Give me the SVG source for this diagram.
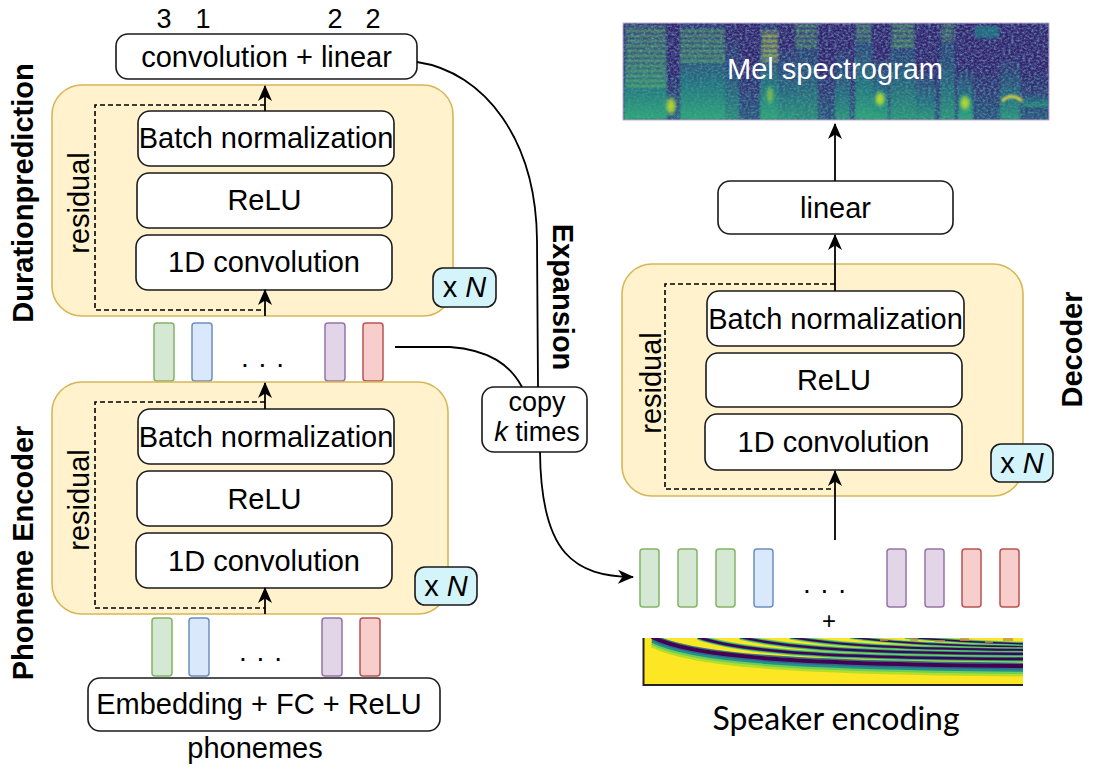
<svg xmlns="http://www.w3.org/2000/svg" width="1095" height="776" viewBox="0 0 1095 776">
<defs>
<style>
.t{font-family:"Liberation Sans",Arial,sans-serif;font-size:29px;fill:#000;text-anchor:middle}
.b{font-weight:bold;font-size:29px}
.box{fill:#fff;stroke:#1a1a1a;stroke-width:1.6}
.grp{fill:#fff2cc;stroke:#d6b656;stroke-width:1.6}
.badge{fill:#d4f4fc;stroke:#1a1a1a;stroke-width:1.6}
.res{fill:none;stroke:#000;stroke-width:1.6;stroke-dasharray:5 3}
.edge{fill:none;stroke:#000;stroke-width:1.8}
.arr{marker-end:url(#ah)}
.vg{fill:#d5e8d4;stroke:#82b366;stroke-width:1.5}
.vb{fill:#dae8fc;stroke:#6c8ebf;stroke-width:1.5}
.vp{fill:#e1d5e7;stroke:#9673a6;stroke-width:1.5}
.vr{fill:#f8cecc;stroke:#b85450;stroke-width:1.5}
.dots{font-family:"Liberation Sans",Arial,sans-serif;font-size:28px;letter-spacing:1px;text-anchor:middle}
</style>
<marker id="ah" markerUnits="userSpaceOnUse" markerWidth="16" markerHeight="14" viewBox="0 0 16 14" refX="15" refY="7" orient="auto"><path d="M0,0 L16,7 L0,14 L4.5,7 z" fill="#000"/></marker>
<clipPath id="melclip"><rect x="623" y="23" width="426" height="97"/></clipPath>
<clipPath id="spkclip"><rect x="643" y="638" width="380" height="47"/></clipPath>
<linearGradient id="tg" x1="0" y1="0" x2="0" y2="1"><stop offset="0" stop-color="#26828e" stop-opacity="0.2"/><stop offset="0.6" stop-color="#1f9e89" stop-opacity="0.55"/><stop offset="1" stop-color="#35b779" stop-opacity="0.8"/></linearGradient>
<linearGradient id="bg2" x1="0" y1="0" x2="0" y2="1"><stop offset="0" stop-color="#21918c" stop-opacity="0"/><stop offset="1" stop-color="#21918c" stop-opacity="0.45"/></linearGradient>
<radialGradient id="yb"><stop offset="0" stop-color="#e8e419"/><stop offset="0.45" stop-color="#a5db36"/><stop offset="1" stop-color="#35b779" stop-opacity="0"/></radialGradient>
<pattern id="hg" patternUnits="userSpaceOnUse" width="8" height="5"><rect x="0" y="0" width="8" height="1.8" fill="#6ece58"/></pattern>
<pattern id="hy" patternUnits="userSpaceOnUse" width="8" height="5"><rect x="0" y="0" width="8" height="1.8" fill="#c8e020"/></pattern>
<filter id="noise" x="0" y="0" width="1" height="1"><feTurbulence type="fractalNoise" baseFrequency="0.35 0.5" numOctaves="2" seed="4"/><feColorMatrix type="matrix" values="0 0 0 0 0.15  0 0 0 0 0.45  0 0 0 0 0.55  0 0 0 1.6 -0.62"/><feComposite in2="SourceGraphic" operator="in"/></filter>
<filter id="soft" x="-5%" y="-5%" width="110%" height="110%"><feGaussianBlur stdDeviation="0.8"/></filter>
</defs>
<rect width="1095" height="776" fill="#fff"/>

<g id="conv-linear">
<rect class="box" x="116" y="34" width="301" height="45" rx="12"/>
<text class="t" x="266.5" y="67">convolution + linear</text>
<text class="t" style="font-size:27px" x="164" y="28">3</text>
<text class="t" style="font-size:27px" x="203" y="28">1</text>
<text class="t" style="font-size:27px" x="335" y="28">2</text>
<text class="t" style="font-size:27px" x="373" y="28">2</text>
</g>

<g id="duration-prediction">
<rect class="grp" x="52" y="85" width="401" height="231" rx="30"/>
<rect class="box" x="138" y="111" width="256" height="55" rx="12"/>
<text class="t" x="266" y="148">Batch normalization</text>
<rect class="box" x="137" y="173" width="255" height="55" rx="12"/>
<text class="t" x="264.5" y="210">ReLU</text>
<rect class="box" x="136" y="235" width="256" height="55" rx="12"/>
<text class="t" x="264" y="272">1D convolution</text>
<text class="t" transform="translate(89,203) rotate(-90)">residual</text>
<text class="t b" transform="translate(33,193) rotate(-90)">Durationprediction</text>
</g>
<g id="duration-xn">
<rect class="badge" x="433" y="268" width="63" height="39" rx="10"/>
<text class="t" x="464.5" y="297">x <tspan font-style="italic">N</tspan></text>
</g>

<g id="encoder-vectors">
<rect class="vg" x="154" y="323" width="20" height="58" rx="3"/>
<rect class="vb" x="192" y="323" width="20" height="58" rx="3"/>
<rect class="vp" x="325" y="323" width="20" height="58" rx="3"/>
<rect class="vr" x="363" y="323" width="20" height="58" rx="3"/>
<text class="dots" x="263" y="367">. . .</text>
</g>

<g id="phoneme-encoder">
<rect class="grp" x="52" y="382" width="396" height="232" rx="30"/>
<rect class="box" x="138" y="409" width="256" height="55" rx="12"/>
<text class="t" x="266" y="447">Batch normalization</text>
<rect class="box" x="137" y="471" width="255" height="55" rx="12"/>
<text class="t" x="264.5" y="509">ReLU</text>
<rect class="box" x="136" y="533" width="256" height="55" rx="12"/>
<text class="t" x="264" y="571">1D convolution</text>
<text class="t" transform="translate(89,500) rotate(-90)">residual</text>
<text class="t b" transform="translate(33,553) rotate(-90)">Phoneme Encoder</text>
</g>
<g id="encoder-xn">
<rect class="badge" x="415" y="567" width="62" height="38" rx="10"/>
<text class="t" x="446" y="596">x <tspan font-style="italic">N</tspan></text>
</g>

<g id="embedding-vectors">
<rect class="vg" x="152" y="618" width="20" height="58" rx="3"/>
<rect class="vb" x="189" y="618" width="20" height="58" rx="3"/>
<rect class="vp" x="322" y="618" width="20" height="58" rx="3"/>
<rect class="vr" x="360" y="618" width="20" height="58" rx="3"/>
<text class="dots" x="261" y="661">. . .</text>
</g>

<g id="embedding">
<rect class="box" x="88" y="678" width="352" height="53" rx="12"/>
<text class="t" x="259" y="714">Embedding + FC + ReLU</text>
<text class="t" x="255" y="758">phonemes</text>
</g>

<g id="expansion">
<text class="t b" transform="translate(553,297) rotate(90)">Expansion</text>
</g>
<g id="copy">
<rect class="box" x="482" y="387" width="105" height="65" rx="12"/>
<text class="t" style="font-size:27px" x="537" y="411">copy</text>
<text class="t" style="font-size:27px" x="537" y="441"><tspan font-style="italic">k</tspan> times</text>
</g>

<g id="mel">
<g clip-path="url(#melclip)">
<rect x="623" y="23" width="426" height="97" fill="#36236f"/>
<rect x="623" y="23" width="426" height="97" fill="#000" filter="url(#noise)"/>
<g filter="url(#soft)">
<rect x="623" y="70" width="426" height="50" fill="url(#bg2)"/>
<g fill="url(#tg)">
<rect x="624" y="23" width="43" height="97"/>
<rect x="680" y="23" width="45" height="97"/>
<rect x="725" y="40" width="14" height="80" opacity="0.7"/>
<rect x="760" y="23" width="18" height="97"/>
<rect x="778" y="50" width="17" height="70" opacity="0.8"/>
<rect x="795" y="23" width="23" height="97" opacity="0.7"/>
<rect x="835" y="50" width="15" height="70" opacity="0.8"/>
<rect x="855" y="23" width="17" height="97"/>
<rect x="872" y="60" width="16" height="60"/>
<rect x="890" y="23" width="25" height="97" opacity="0.8"/>
<rect x="915" y="70" width="20" height="50" opacity="0.8"/>
<rect x="940" y="23" width="15" height="97" opacity="0.8"/>
<rect x="958" y="70" width="15" height="50"/>
<rect x="1000" y="60" width="20" height="60" opacity="0.8"/>
<rect x="1022" y="95" width="27" height="12" opacity="0.8"/>
</g>
<rect x="626" y="26" width="40" height="62" fill="url(#hg)" opacity="0.65"/>
<rect x="680" y="28" width="45" height="36" fill="url(#hg)" opacity="0.65"/>
<rect x="762" y="31" width="16" height="30" fill="url(#hy)" opacity="0.85"/>
<rect x="795" y="25" width="22" height="22" fill="url(#hg)" opacity="0.6"/>
<rect x="856" y="25" width="15" height="16" fill="url(#hg)" opacity="0.6"/>
<rect x="892" y="25" width="22" height="22" fill="url(#hg)" opacity="0.7"/>
<rect x="942" y="25" width="12" height="16" fill="url(#hg)" opacity="0.6"/>
<rect x="975" y="26" width="24" height="12" fill="#21918c" opacity="0.6"/>
<ellipse cx="671" cy="106" rx="7" ry="12" fill="url(#yb)" opacity="0.85"/>
<ellipse cx="880" cy="99" rx="7" ry="10" fill="url(#yb)" opacity="0.85"/>
<ellipse cx="965" cy="103" rx="7" ry="10" fill="url(#yb)" opacity="0.85"/>
<path d="M1002,101 Q1012,92 1022,101" fill="none" stroke="#d6e21f" stroke-width="2.5"/>
<ellipse cx="770" cy="95" rx="5" ry="12" fill="url(#yb)" opacity="0.5"/>
</g>
</g>
<rect x="623" y="23" width="426" height="97" fill="none" stroke="#c0aed4" stroke-width="1"/>
<text class="t" x="835" y="79" style="fill:#fff">Mel spectrogram</text>
</g>

<g id="linear">
<rect class="box" x="718" y="181" width="235" height="53" rx="12"/>
<text class="t" x="835.5" y="218">linear</text>
</g>

<g id="decoder">
<rect class="grp" x="622" y="264" width="401" height="232" rx="30"/>
<rect class="box" x="707" y="291" width="257" height="55" rx="12"/>
<text class="t" x="835.5" y="328.5">Batch normalization</text>
<rect class="box" x="706" y="353" width="256" height="54" rx="12"/>
<text class="t" x="834" y="390">ReLU</text>
<rect class="box" x="705" y="414" width="257" height="56" rx="12"/>
<text class="t" x="833.5" y="452">1D convolution</text>
<text class="t" transform="translate(661,383) rotate(-90)">residual</text>
<text class="t b" transform="translate(1082,349.5) rotate(-90)">Decoder</text>
</g>
<g id="decoder-xn">
<rect class="badge" x="991" y="444" width="62" height="38" rx="10"/>
<text class="t" x="1022" y="473">x <tspan font-style="italic">N</tspan></text>
</g>

<g id="expanded-vectors">
<rect class="vg" x="640" y="549" width="19" height="58" rx="3"/>
<rect class="vg" x="678" y="549" width="19" height="58" rx="3"/>
<rect class="vg" x="716" y="549" width="19" height="58" rx="3"/>
<rect class="vb" x="754" y="549" width="19" height="58" rx="3"/>
<rect class="vp" x="887" y="549" width="19" height="58" rx="3"/>
<rect class="vp" x="925" y="549" width="19" height="58" rx="3"/>
<rect class="vr" x="962" y="549" width="19" height="58" rx="3"/>
<rect class="vr" x="1000" y="549" width="19" height="58" rx="3"/>
<text class="dots" x="825" y="593">. . .</text>
<text class="t" style="font-size:24px" x="829" y="629">+</text>
</g>

<g id="speaker-encoding">
<g clip-path="url(#spkclip)">
<rect x="643" y="638" width="380" height="47" fill="#fde725"/>
<g fill="none">
<path d="M905,637 C950,641 990,643 1030,644" stroke="#6ece58" stroke-width="4"/>
<path d="M905,637 C950,641 990,643 1030,644" stroke="#21918c" stroke-width="2.5"/>
<path d="M905,637 C950,641 990,643 1030,644" stroke="#440154" stroke-width="1.3"/>
<path d="M850,637 C900,644 960,646 1030,647" stroke="#6ece58" stroke-width="4"/>
<path d="M850,637 C900,644 960,646 1030,647" stroke="#21918c" stroke-width="2.6"/>
<path d="M850,637 C900,644 960,646 1030,647" stroke="#440154" stroke-width="1.5"/>
<path d="M790,637 C840,646 910,649 1030,650" stroke="#6ece58" stroke-width="5"/>
<path d="M790,637 C840,646 910,649 1030,650" stroke="#21918c" stroke-width="3.2"/>
<path d="M790,637 C840,646 910,649 1030,650" stroke="#440154" stroke-width="1.9"/>
<path d="M740,637 C790,649 870,653 1030,654" stroke="#6ece58" stroke-width="5.5"/>
<path d="M740,637 C790,649 870,653 1030,654" stroke="#21918c" stroke-width="3.6"/>
<path d="M740,637 C790,649 870,653 1030,654" stroke="#440154" stroke-width="2.2"/>
<path d="M698,637 C740,652 830,658 1030,659" stroke="#6ece58" stroke-width="6"/>
<path d="M698,637 C740,652 830,658 1030,659" stroke="#21918c" stroke-width="4"/>
<path d="M698,637 C740,652 830,658 1030,659" stroke="#440154" stroke-width="2.6"/>
<path transform="translate(0,8)" d="M652,637 C690,656 780,664 1030,666" stroke="#b5de2b" stroke-width="5"/>
<path transform="translate(0,6)" d="M652,637 C690,656 780,664 1030,666" stroke="#6ece58" stroke-width="4"/>
<path transform="translate(0,4)" d="M652,637 C690,656 780,664 1030,666" stroke="#21918c" stroke-width="3.5"/>
<path transform="translate(0,2)" d="M652,637 C690,656 780,664 1030,666" stroke="#31688e" stroke-width="3"/>
<path transform="translate(0,-2.5)" d="M652,637 C690,656 780,664 1030,666" stroke="#2a788e" stroke-width="1.6"/>
<path d="M652,637 C690,656 780,664 1030,666" stroke="#440154" stroke-width="4"/>
</g>
<g fill="#c98b4a" opacity="0.75">
<rect x="910" y="638" width="8" height="3"/>
<rect x="935" y="640" width="10" height="2"/>
<rect x="960" y="638" width="9" height="3"/>
<rect x="985" y="641" width="8" height="2"/>
<rect x="1003" y="638" width="10" height="3"/>
<rect x="880" y="639" width="8" height="2"/>
</g>
</g>
<path d="M643.5,638 L643.5,685 L1023,685" fill="none" stroke="#222" stroke-width="2"/>
<text x="836" y="730" style="font-family:Lato,'Open Sans',sans-serif;font-size:32px;text-anchor:middle;fill:#000">Speaker encoding</text>
</g>

<g id="connectors">
<path class="edge arr" d="M265,111 L265,86"/>
<path class="edge arr" d="M265,316 L265,290"/>
<path class="edge arr" d="M265,409 L265,383"/>
<path class="edge arr" d="M265,614 L265,588"/>
<path class="edge arr" d="M835,291 L835,235"/>
<path class="edge arr" d="M835,540 L835,471"/>
<path class="edge arr" d="M835,181 L835,124"/>
<path class="res" d="M265,105 L95,105 L95,310 L265,310"/>
<path class="res" d="M265,402 L95,402 L95,608 L265,608"/>
<path class="res" d="M835,284 L665,284 L665,489 L835,489"/>
<path class="edge" d="M417,62 C485,72 536,140 537,240 L538,387"/>
<path class="edge" d="M395,347 L450,347 C490,350 510,365 522,387"/>
<path class="edge arr" d="M540,452 C541,555 575,576 633,577"/>
</g>
</svg>
